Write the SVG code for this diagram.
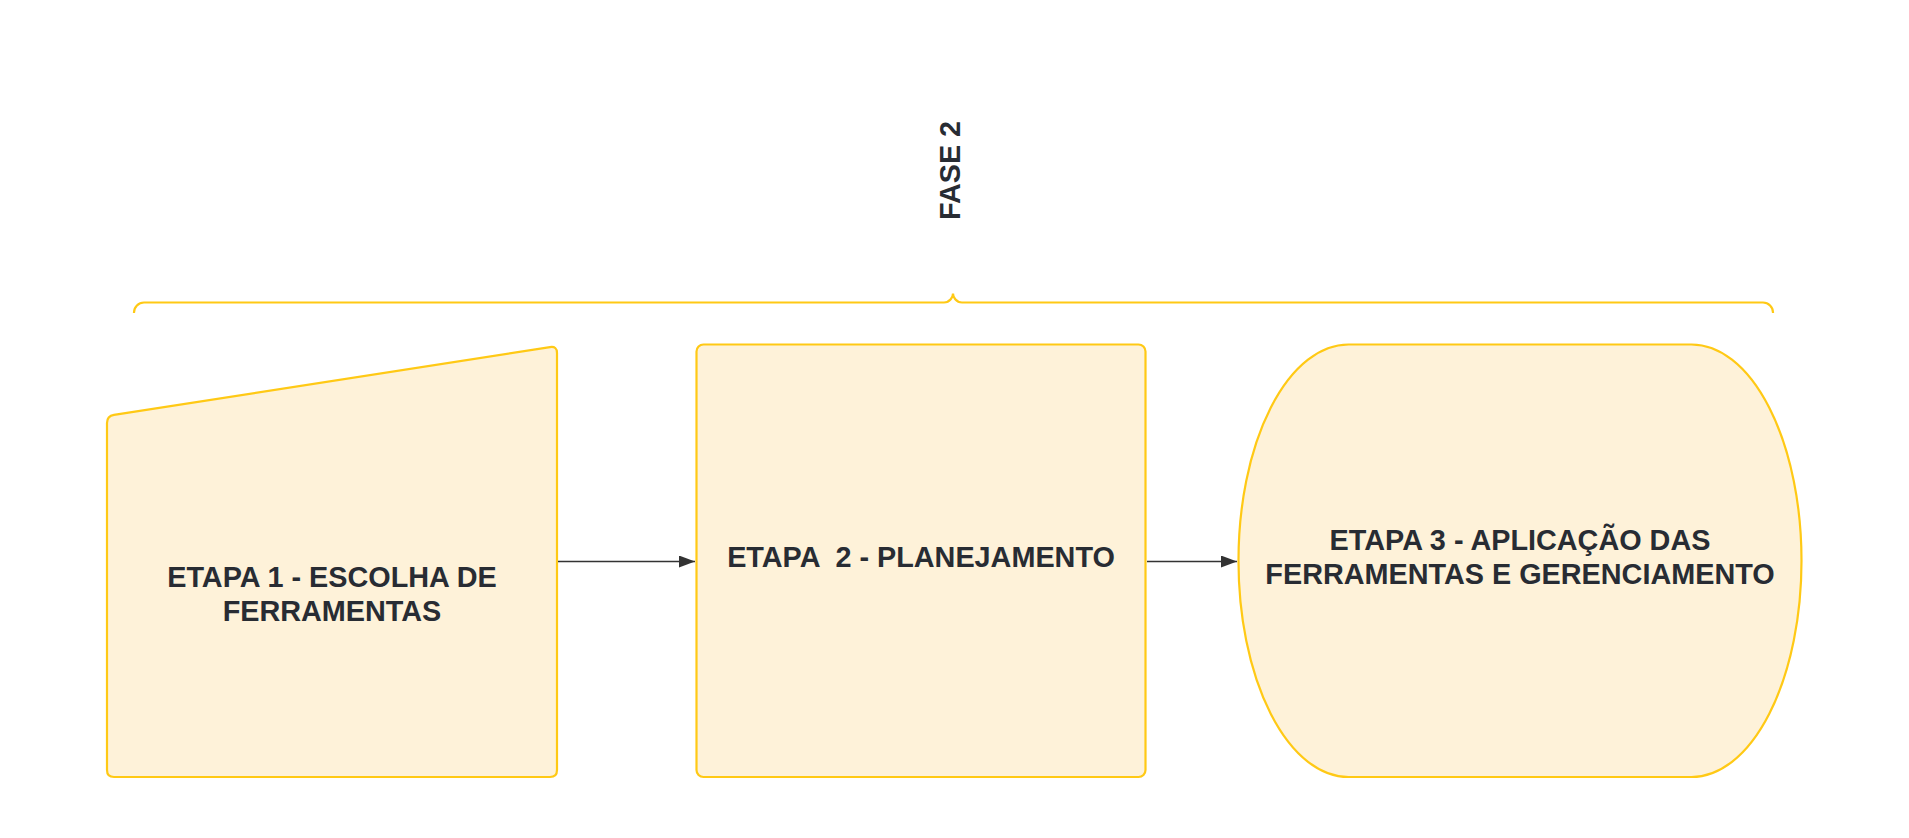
<svg xmlns="http://www.w3.org/2000/svg" width="1909" height="838" viewBox="0 0 1909 838">
  <style>
    .node { fill: #fef2d9; stroke: #ffc915; stroke-width: 2.2; }
    .brace { fill: none; stroke: #ffc915; stroke-width: 2.2; }
    .conn { fill: none; stroke: #333333; stroke-width: 1.5; }
    .lbl { font-family: "Liberation Sans", Arial, sans-serif; font-weight: bold; font-size: 28.8px; fill: #282c33; text-anchor: middle; }
  </style>
  <defs>
    <marker id="arrow" markerUnits="userSpaceOnUse" markerWidth="18" markerHeight="14" refX="16" refY="6" orient="auto">
      <path d="M0,0 L16,6 L0,12 Z" fill="#333333"/>
    </marker>
  </defs>
  <rect width="1909" height="838" fill="#ffffff"/>

  <g id="phase">
    <path class="brace" d="M134,313 L134,312.5 A10,10 0 0 1 144,302.5 L944,302.5 C950,302.5 953,297 953,293.5 C953,297 956,302.5 962,302.5 L1763,302.5 A10,10 0 0 1 1773,312.5 L1773,313"/>
    <text class="lbl" transform="translate(960,170.5) rotate(-90)">FASE 2</text>
  </g>

  <g id="etapa1">
    <path class="node" d="M107,423 Q107,416 114,414.9 L550,347.1 Q557,346 557,353 L557,770 Q557,777 550,777 L114,777 Q107,777 107,770 Z"/>
    <text class="lbl" x="332" y="587">ETAPA 1 - ESCOLHA DE</text>
    <text class="lbl" x="332" y="621">FERRAMENTAS</text>
  </g>

  <g id="etapa2">
    <rect class="node" x="696.5" y="344.5" width="449" height="432.5" rx="7"/>
    <text class="lbl" x="921" y="567" xml:space="preserve">ETAPA  2 - PLANEJAMENTO</text>
  </g>

  <g id="etapa3">
    <rect class="node" x="1238.5" y="344.5" width="563" height="432.5" rx="110" ry="216"/>
    <text class="lbl" x="1520" y="549.5">ETAPA 3 - APLICAÇÃO DAS</text>
    <text class="lbl" x="1520" y="584">FERRAMENTAS E GERENCIAMENTO</text>
  </g>

  <g id="connectors">
    <path class="conn" d="M558,561.5 L695,561.5" marker-end="url(#arrow)"/>
    <path class="conn" d="M1147,561.5 L1237,561.5" marker-end="url(#arrow)"/>
  </g>
</svg>
